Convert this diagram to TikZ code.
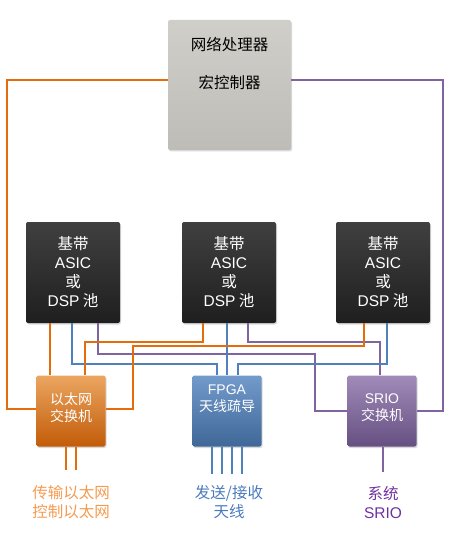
\documentclass[tikz,border=0pt]{standalone}
\usepackage{fontspec}
\setmainfont{Noto Sans CJK SC}
\newfontfamily\latin{Liberation Sans}
\usetikzlibrary{calc}
\usetikzlibrary{shadows}
\definecolor{line-orange}{RGB}{228, 108, 10}
\definecolor{line-blue}{RGB}{79, 129, 189}
\definecolor{line-purple}{RGB}{128, 100, 162}
\definecolor{text-orange}{RGB}{245, 155, 80}
\definecolor{text-blue}{RGB}{74, 122, 190}
\definecolor{text-purple}{RGB}{112, 48, 160}
\definecolor{npu-gray}{RGB}{200, 198, 192}
\begin{document}
\begin{tikzpicture}[x=1pt, y=-1pt,
    box/.style={rounded corners=2pt, inner sep=0pt, drop shadow={shadow xshift=1pt, shadow yshift=-1.5pt, opacity=0.3}},
    npubox/.style={box, top color=npu-gray!85, bottom color=npu-gray!95!black, minimum width=123, minimum height=130},
    dspbox/.style={box, top color=black!75, bottom color=black!88, minimum width=94, minimum height=101,
        text=white, align=center, font=\fontsize{15.5}{19}\selectfont},
    swbox/.style={box, minimum width=69, minimum height=71},
    swtext/.style={text=white, align=center, font=\fontsize{14}{17}\selectfont},
    bottomtext/.style={align=center, font=\fontsize{15.5}{19}\selectfont},
    oline/.style={line-orange, line width=2pt},
    bline/.style={line-blue, line width=2pt},
    pline/.style={line-purple, line width=2pt}]
\useasboundingbox (0,0) rectangle (454,540);

% boxes
\node[npubox] (npu) at (229.5,85) {};
\node[font=\fontsize{15.5}{18}\selectfont] (npuA) at ([yshift=-25]npu.north) {网络处理器};
\node[font=\fontsize{15.5}{18}\selectfont] (npuB) at ([yshift=-63]npu.north) {宏控制器};

\node[dspbox] (dspA) at (73,272.5) {基带\\{\latin ASIC}\\或\\{\latin DSP} 池};
\node[dspbox] (dspB) at (229,272.5) {基带\\{\latin ASIC}\\或\\{\latin DSP} 池};
\node[dspbox] (dspC) at (383,272.5) {基带\\{\latin ASIC}\\或\\{\latin DSP} 池};

\node[swbox, top color=orange!55!brown!70, bottom color=line-orange!85!black] (eth) at (71,411) {};
\node[swtext] (ethtxt) at ([yshift=3]eth.center) {以太网\\交换机};
\node[swbox, top color=line-blue!80, bottom color=line-blue!80!black] (fpga) at (227,411) {};
\node[swtext] (fpgatxt) at ([yshift=12]fpga.center) {{\latin FPGA}\\天线疏导};
\node[swbox, top color=line-purple!75, bottom color=line-purple!80!black] (srio) at (382,411) {};
\node[swtext] (sriotxt) at ([yshift=3]srio.center) {{\latin SRIO}\\交换机};

% labels
\node[bottomtext, text-orange] (ethlbl) at (71,502.5) {传输以太网\\控制以太网};
\node[bottomtext, text-blue] (fpgalbl) at (229,502.5) {发送/接收\\天线};
\node[bottomtext, text-purple] (sriolbl) at (383,502.5) {系统\\{\latin SRIO}};

% controller links
\draw[oline] ([yshift=5]npu.west) -| (7,409) -- ([yshift=2]eth.west);
\draw[pline] ([yshift=5]npu.east) -| (443,411) -- (srio.east);

% pool links
\draw[oline] ([xshift=-23]dspA.south) -- ([xshift=-21]eth.north);
\draw[bline] ([xshift=-1]dspA.south) -- ++(0,41) -| ([xshift=-10]fpga.north);
\draw[pline] ([xshift=25]dspA.south) -- ++(0,31) -| (315,411) -- (srio.west);

\draw[oline] ([xshift=-26]dspB.south) -- ++(0,19) -| ([xshift=14]eth.north);
\draw[bline] ([xshift=-2]dspB.south) -- (fpga.north);
\draw[pline] ([xshift=19]dspB.south) -- ++(0,19) -| ([xshift=-2]srio.north);

\draw[oline] ([xshift=-19]dspC.south) -- ++(0,23) -| (133,409) -- ([yshift=2]eth.east);
\draw[bline] ([xshift=4]dspC.south) -- ++(0,41) -| ([xshift=11]fpga.north);

% outputs
\foreach \dx in {-5,5}
    \draw[oline] ([xshift=\dx]eth.south) -- ++(0,23);
\foreach \dx in {-15,-5,5,15}
    \draw[bline] ([xshift=\dx]fpga.south) -- ++(0,27);
\draw[pline] ([xshift=1]srio.south) -- ++(0,25);
\end{tikzpicture}
\end{document}
